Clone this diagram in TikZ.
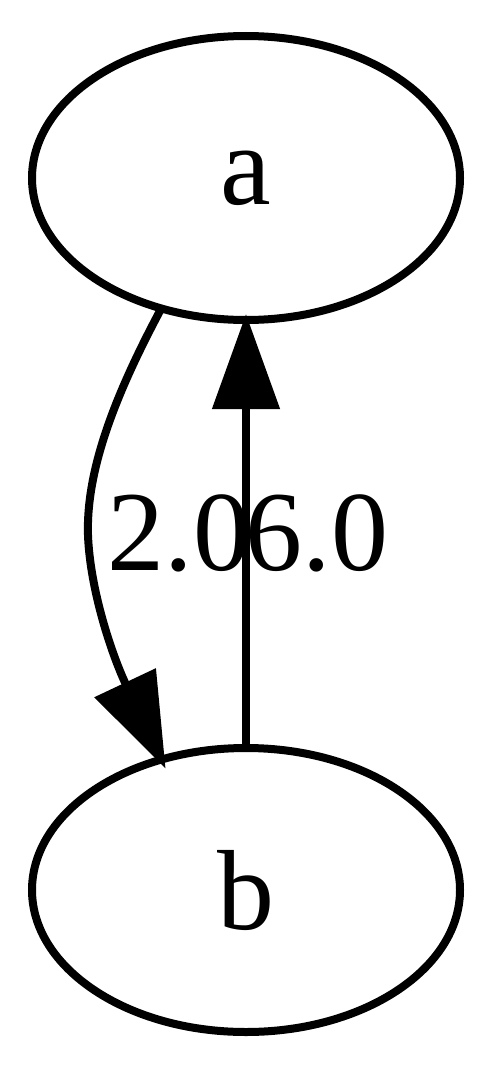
\documentclass[tikz,border=0pt]{standalone}
\usepackage{fontspec}
\setmainfont{Liberation Serif}
\usetikzlibrary{shapes.geometric,arrows.meta}
\begin{document}
\begin{tikzpicture}[x=1pt,y=-1pt,
  gnode/.style={ellipse,draw,line width=8pt,minimum width=428pt,minimum height=284pt,inner sep=0pt,outer sep=0pt,font=\fontsize{114pt}{130pt}\selectfont},
  gedge/.style={line width=8pt,-{Triangle[length=95pt,width=66pt]}},
  elabel/.style={font=\fontsize{114pt}{130pt}\selectfont,anchor=base,inner sep=0pt}]
\useasboundingbox (0,0) rectangle (500,1073);
\node[gnode] (a) at (246,178) {a};
\node[gnode] (b) at (246,890) {b};
\draw[gedge,shorten >=-10pt] (a.237) .. controls (115,395) and (86,470) .. (88,535) .. controls (90,590) and (112,655) .. (b.123);
\draw[gedge,shorten >=-6pt] (b.north) -- (a.south);
\node[elabel] (l1) at (179,570) {2.0};
\node[elabel] (l2) at (317,570) {6.0};
\end{tikzpicture}
\end{document}
